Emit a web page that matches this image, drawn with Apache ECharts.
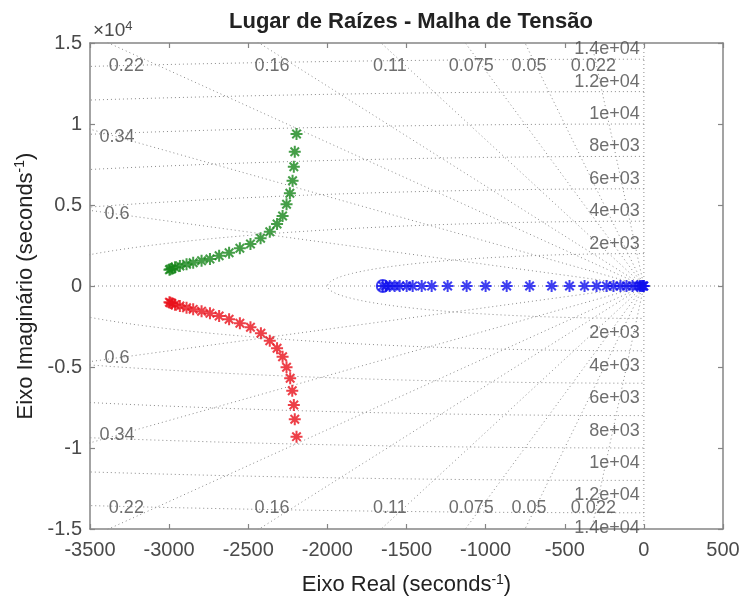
<!DOCTYPE html>
<html>
<head>
<meta charset="utf-8">
<script src="https://cdn.jsdelivr.net/npm/echarts@6/dist/echarts.min.js"></script>
<style>
  html, body { margin: 0; padding: 0; background: #fff; }
  #chart { width: 743px; height: 601px; }
</style>
</head>
<body>
<div id="chart"></div>
<script>
// branch (real, imag)
var greenRe = [-2195, -2206, -2212, -2220, -2237, -2258, -2283, -2318, -2364, -2422, -2486, -2553, -2621, -2684, -2742, -2795, -2848, -2890, -2932, -2963, -2982, -2992, -2998];
var greenIm = [9383, 8290, 7365, 6500, 5722, 5043, 4321, 3827, 3352, 2945, 2593, 2327, 2056, 1870, 1667, 1562, 1438, 1340, 1235, 1154, 1080, 1030, 1000];
var redRe = [-2195, -2206, -2212, -2222, -2235, -2258, -2283, -2318, -2364, -2420, -2486, -2553, -2621, -2684, -2742, -2795, -2848, -2890, -2932, -2963, -2982, -2992, -2998];
var redIm = [-9300, -8229, -7346, -6463, -5697, -5019, -4364, -3846, -3377, -2920, -2550, -2303, -2056, -1852, -1685, -1560, -1440, -1340, -1235, -1155, -1080, -1030, -1000];
var blueRe = [-1631, -1606, -1575, -1543, -1499, -1461, -1404, -1341, -1240, -1120, -1000, -867, -722, -583, -470, -375, -299, -236, -192, -148, -110, -72, -41, -25, -15, -8, -3, 0];
var blueZero = [-1650];

// sgrid
var zetas = [0.022, 0.05, 0.075, 0.11, 0.16, 0.22, 0.34, 0.6];
var zetaLabels = ['0.022', '0.05', '0.075', '0.11', '0.16', '0.22', '0.34', '0.6'];
var wn = [2000, 4000, 6000, 8000, 10000, 12000, 14000];
var wnLabels = ['2e+03', '4e+03', '6e+03', '8e+03', '1e+04', '1.2e+04', '1.4e+04'];

var xTicks = [-3500, 500, 500];   // min, max, step
var yTicks = [-15000, 15000, 5000];

var gridColor = '#8a8a8a';
var star = 'path://M0,-10L0,10M-10,0L10,0M-7.07,-7.07L7.07,7.07M-7.07,7.07L7.07,-7.07';

function zip(a, b) {
  return a.map(function (v, i) { return [v, b[i]]; });
}

function dotted(data) {
  return {
    type: 'line', data: data, symbol: 'none', silent: true, z: 1,
    lineStyle: { color: gridColor, width: 1, type: [1, 3] }
  };
}

var series = [];
// real and imaginary axis
series.push(dotted([[-3500, 0], [500, 0]]));
series.push(dotted([[0, -15000], [0, 15000]]));
// damping rays
zetas.forEach(function (z) {
  var s = Math.sqrt(1 - z * z);
  var R = 40000;
  series.push(dotted([[0, 0], [-R * z, R * s]]));
  series.push(dotted([[0, 0], [-R * z, -R * s]]));
});
// natural frequency circles (left half plane)
wn.forEach(function (r) {
  var pts = [];
  for (var a = 90; a <= 270; a += 1) {
    var t = a * Math.PI / 180;
    pts.push([r * Math.cos(t), r * Math.sin(t)]);
  }
  series.push(dotted(pts));
});

// damping labels
var zLab = [];
zetas.forEach(function (z, i) {
  var slope = Math.sqrt(1 - z * z) / z;
  var xt = -14500 / slope;
  if (xt > -3330) {
    zLab.push([xt, 13600, zetaLabels[i]]);
    zLab.push([xt, -13700, zetaLabels[i]]);
  } else {
    zLab.push([-3330, 3330 * slope, zetaLabels[i]]);
    zLab.push([-3330, -3330 * slope, zetaLabels[i]]);
  }
});
var labelStyle = { color: '#4a4a4a', fontSize: 18, fontFamily: 'Liberation Sans' };
series.push({
  type: 'scatter', data: zLab, symbolSize: 0, silent: true, z: 2,
  label: Object.assign({ show: true, position: 'inside', formatter: function (p) { return p.data[2]; } }, labelStyle)
});
// frequency labels
var wTop = wn.map(function (r, i) { return [0, r, wnLabels[i]]; });
var wBot = wn.map(function (r, i) { return [0, -r, wnLabels[i]]; });
series.push({
  type: 'scatter', data: wTop, symbolSize: 0, silent: true, z: 2,
  label: Object.assign({ show: true, position: 'left', distance: 4, offset: [0, -10], formatter: function (p) { return p.data[2]; } }, labelStyle)
});
series.push({
  type: 'scatter', data: wBot, symbolSize: 0, silent: true, z: 2,
  label: Object.assign({ show: true, position: 'left', distance: 4, offset: [0, 15], formatter: function (p) { return p.data[2]; } }, labelStyle)
});

function branch(re, im, color) {
  return {
    type: 'scatter', data: zip(re, im), symbol: star, symbolSize: 12, z: 5,
    itemStyle: { color: 'transparent', borderColor: color, borderWidth: 2 }
  };
}
series.push(branch(greenRe, greenIm, '#17861a'));
series.push(branch(redRe, redIm, '#e8101a'));
series.push(branch(blueRe, blueRe.map(function () { return 0; }), '#1010ee'));
series.push({
  type: 'scatter', data: blueZero.map(function (v) { return [v, 0]; }), symbol: 'circle', symbolSize: 12, z: 6,
  itemStyle: { color: 'transparent', borderColor: '#1010ee', borderWidth: 2 }
});
series.push(branch(blueZero, [0], '#1010ee'));

var axisBase = {
  axisLine: { show: true, onZero: false, lineStyle: { color: '#858585', width: 1.5 } },
  axisTick: { show: true, inside: true, length: 5, lineStyle: { color: '#858585', width: 1.2 } },
  splitLine: { show: false }
};
var tickFont = { color: '#4a4a4a', fontSize: 20, fontFamily: 'Liberation Sans' };
var nameFont = {
  color: '#222', fontSize: 22, fontFamily: 'Liberation Sans',
  rich: { sup: { fontSize: 14, color: '#222', fontFamily: 'Liberation Sans', verticalAlign: 'top', padding: [0, 0, 10, 0] } }
};

var option = {
  animation: false,
  backgroundColor: '#fff',
  title: {
    text: 'Lugar de Raízes - Malha de Tensão',
    left: 406, top: 6, textAlign: 'center',
    textStyle: { fontSize: 22, fontWeight: 'bold', color: '#222', fontFamily: 'Liberation Sans' }
  },
  grid: { left: 90, right: 20, top: 43, bottom: 72 },
  xAxis: [
    Object.assign({
      type: 'value', min: xTicks[0], max: xTicks[1], interval: xTicks[2], position: 'bottom',
      axisLabel: Object.assign({ margin: 11, formatter: function (v) { return String(v); } }, tickFont),
      name: 'Eixo Real (seconds{sup|-1})', nameLocation: 'middle', nameGap: 44, nameTextStyle: nameFont
    }, axisBase),
    Object.assign({
      type: 'value', min: xTicks[0], max: xTicks[1], interval: xTicks[2], position: 'top',
      axisLabel: { show: false }
    }, axisBase)
  ],
  yAxis: [
    Object.assign({
      type: 'value', min: yTicks[0], max: yTicks[1], interval: yTicks[2], position: 'left',
      axisLabel: Object.assign({ margin: 8, formatter: function (v) { return String(v / 10000); } }, tickFont),
      name: 'Eixo Imaginário (seconds{sup|-1})', nameLocation: 'middle', nameGap: 46, nameTextStyle: nameFont
    }, axisBase),
    Object.assign({
      type: 'value', min: yTicks[0], max: yTicks[1], interval: yTicks[2], position: 'right',
      axisLabel: { show: false }
    }, axisBase)
  ],
  graphic: [{
    type: 'text', left: 93, top: 20,
    style: {
      text: '×10{sup|4}', fill: '#4a4a4a', fontSize: 19, fontFamily: 'Liberation Sans',
      rich: { sup: { fontSize: 13, fill: '#4a4a4a', verticalAlign: 'top', padding: [0, 0, 8, 0] } }
    }
  }],
  series: series
};

var chart = echarts.init(document.getElementById('chart'));
chart.setOption(option);
</script>
</body>
</html>
